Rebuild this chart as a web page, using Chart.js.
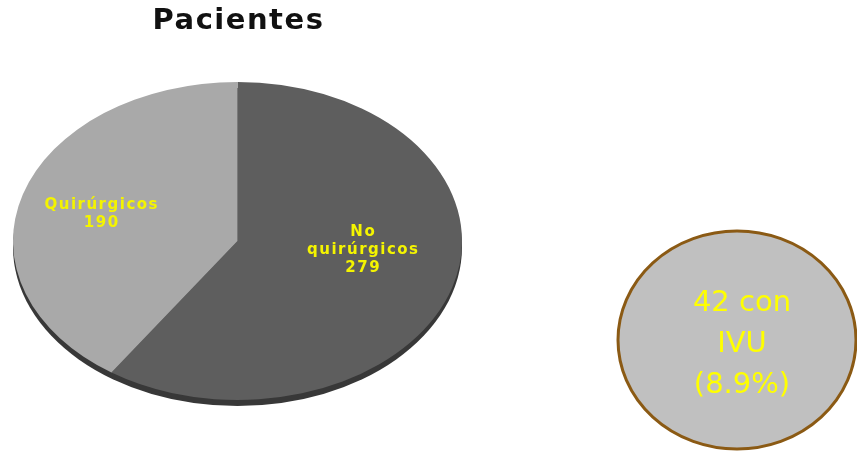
<!DOCTYPE html>
<html>
<head>
<meta charset="utf-8">
<script src="https://cdn.jsdelivr.net/npm/chart.js@4/dist/chart.umd.min.js"></script>
<style>
  html, body { margin: 0; padding: 0; background: #fff; overflow: hidden; }
  #chart { display: block; }
</style>
</head>
<body>
<canvas id="chart" width="857" height="452"></canvas>
<script>
// Patients split by surgical status
const categories = ["No quirúrgicos", "Quirúrgicos"];
const patients = [279, 190];
const labelLines = [["No", "quirúrgicos"], ["Quirúrgicos"]];
const sliceColors = ["#5e5e5e", "#a9a9a9"];

// Urinary tract infection summary bubble
const ivuCount = 42;
const ivuPercent = 8.9;

const title = "Pacientes";

// Pie is drawn as a circle, then squashed into a tilted ellipse
const stretchX = 1.412;
const rimDepth = 6;
const labelFraction = 0.6;
const labelNudge = [[-4, -19], [-8, 1]];

const ellipsePie = {
  id: "ellipsePie",
  beforeDatasetsDraw(chart) {
    const arc = chart.getDatasetMeta(0).data[0];
    const ctx = chart.ctx;
    ctx.save();
    ctx.translate(arc.x, 0);
    ctx.scale(stretchX, 1);
    ctx.translate(-arc.x, 0);
    // dark side of the disc
    ctx.beginPath();
    ctx.arc(arc.x, arc.y + rimDepth, arc.outerRadius, 0, Math.PI * 2);
    ctx.fillStyle = "#383838";
    ctx.fill();
  },
  afterDatasetsDraw(chart) {
    chart.ctx.restore();
  },
  afterDraw(chart) {
    const ctx = chart.ctx;
    const meta = chart.getDatasetMeta(0);
    const cx = meta.data[0].x;

    // title
    ctx.save();
    ctx.font = 'bold 29px "DejaVu Sans"';
    ctx.letterSpacing = "1.5px";
    ctx.fillStyle = "#111";
    ctx.textAlign = "center";
    ctx.textBaseline = "middle";
    ctx.fillText(title, cx + 1, 21);
    ctx.restore();

    // slice labels
    ctx.save();
    ctx.font = 'bold 15px "DejaVu Sans"';
    ctx.letterSpacing = "1.5px";
    ctx.fillStyle = "#f4f400";
    ctx.textAlign = "center";
    ctx.textBaseline = "middle";
    meta.data.forEach((arc, i) => {
      const mid = (arc.startAngle + arc.endAngle) / 2;
      const r = arc.outerRadius * labelFraction;
      const x = arc.x + Math.cos(mid) * r * stretchX + labelNudge[i][0];
      const y = arc.y + Math.sin(mid) * r + labelNudge[i][1];
      const lines = labelLines[i].concat(String(patients[i]));
      const lh = 18;
      lines.forEach((t, k) => {
        ctx.fillText(t, x + 1, y + (k - (lines.length - 1) / 2) * lh);
      });
    });
    ctx.restore();

    // IVU bubble
    ctx.save();
    ctx.beginPath();
    ctx.ellipse(737, 340, 119, 109, 0, 0, Math.PI * 2);
    ctx.fillStyle = "#c0c0c0";
    ctx.fill();
    ctx.lineWidth = 3;
    ctx.strokeStyle = "#8b5a14";
    ctx.stroke();
    ctx.font = '29px "DejaVu Sans"';
    ctx.fillStyle = "#ffff00";
    ctx.textAlign = "center";
    ctx.textBaseline = "middle";
    const bubbleLines = [ivuCount + " con", "IVU", "(" + ivuPercent.toFixed(1) + "%)"];
    bubbleLines.forEach((t, k) => {
      ctx.fillText(t, 742, 303 + k * 41);
    });
    ctx.restore();
  }
};

new Chart(document.getElementById("chart"), {
  type: "pie",
  data: {
    labels: categories,
    datasets: [{
      data: patients,
      backgroundColor: sliceColors,
      borderWidth: 0,
    }],
  },
  options: {
    responsive: false,
    animation: false,
    layout: { padding: { top: 82, bottom: 52, left: 0, right: 382 } },
    plugins: {
      legend: { display: false },
      tooltip: { enabled: false },
    },
  },
  plugins: [ellipsePie],
});
</script>
</body>
</html>
